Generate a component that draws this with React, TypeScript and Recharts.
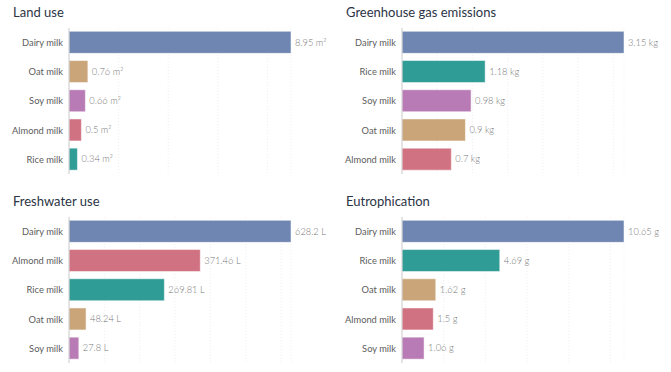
import { BarChart, Bar, XAxis, YAxis, CartesianGrid, LabelList, Cell } from "recharts";

const landCats = ["Dairy milk", "Oat milk", "Soy milk", "Almond milk", "Rice milk"];
const landVals = [8.95, 0.76, 0.66, 0.5, 0.34];
const landTicks = [0, 2, 4, 6, 8];

const ghgCats = ["Dairy milk", "Rice milk", "Soy milk", "Oat milk", "Almond milk"];
const ghgVals = [3.15, 1.18, 0.98, 0.9, 0.7];
const ghgTicks = [0, 0.5, 1, 1.5, 2, 2.5, 3];

const waterCats = ["Dairy milk", "Almond milk", "Rice milk", "Oat milk", "Soy milk"];
const waterVals = [628.2, 371.46, 269.81, 48.24, 27.8];
const waterTicks = [0, 100, 200, 300, 400, 500, 600];

const eutroCats = ["Dairy milk", "Rice milk", "Oat milk", "Almond milk", "Soy milk"];
const eutroVals = [10.65, 4.69, 1.62, 1.5, 1.06];
const eutroTicks = [0, 2, 4, 6, 8, 10];

const milkColors: Record<string, string> = {
  "Dairy milk": "#6e86b1",
  "Oat milk": "#c9a579",
  "Soy milk": "#b87bb5",
  "Almond milk": "#d07282",
  "Rice milk": "#2f9c95",
};

const FONT = "Lato, 'Open Sans', sans-serif";

// plain svg text so recharts doesn't wrap the labels
const CatTick = (props: any) => {
  const { x, y, payload } = props;
  return (
    <text x={x - 4} y={y} dy={3.3} textAnchor="end" fontSize={9.3} fill="#5c5c5c" fontFamily={FONT}>
      {payload.value}
    </text>
  );
};

function Panel({
  title,
  cats,
  vals,
  ticks,
  unit,
  left,
  top,
}: {
  title: string;
  cats: string[];
  vals: number[];
  ticks: number[];
  unit: string;
  left: number;
  top: number;
}) {
  const data = cats.map((c, i) => ({ name: c, value: vals[i] }));
  const valueLabel = (p: any) => {
    const { x, y, width, height, value } = p;
    return (
      <text
        x={x + width + 4}
        y={y + height / 2}
        dy={3.3}
        textAnchor="start"
        fontSize={9.3}
        fill="#777777"
        fontFamily={FONT}
        fontWeight={300}
      >
        {`${value} ${unit}`}
      </text>
    );
  };
  return (
    <div style={{ position: "absolute", left, top, width: 338, height: 180 }}>
      <div
        style={{
          position: "absolute",
          left: 13,
          top: 4,
          fontSize: 13,
          color: "#2b3445",
          fontFamily: FONT,
          whiteSpace: "nowrap",
        }}
      >
        {title}
      </div>
      <BarChart
        width={338}
        height={176}
        data={data}
        layout="vertical"
        barCategoryGap="11.5%"
        margin={{ top: 28, right: 47, left: 0, bottom: 2 }}
      >
        <CartesianGrid horizontal={false} stroke="#efefef" strokeDasharray="1 2" />
        <XAxis type="number" domain={[0, "dataMax"]} ticks={ticks} hide />
        <YAxis
          type="category"
          dataKey="name"
          width={69}
          tickLine={false}
          tickSize={0}
          axisLine={{ stroke: "#cccccc" }}
          tick={<CatTick />}
        />
        <Bar dataKey="value" isAnimationActive={false} stroke="#ffffff" strokeOpacity={0.5} strokeWidth={1}>
          {data.map((d) => (
            <Cell key={d.name} fill={milkColors[d.name]} />
          ))}
          <LabelList dataKey="value" content={valueLabel} />
        </Bar>
      </BarChart>
    </div>
  );
}

export default function App() {
  return (
    <div
      style={{
        position: "absolute",
        left: 0,
        top: 0,
        width: 671,
        height: 372,
        background: "#ffffff",
      }}
    >
      <Panel title="Land use" cats={landCats} vals={landVals} ticks={landTicks} unit="m²" left={0} top={0} />
      <Panel title="Greenhouse gas emissions" cats={ghgCats} vals={ghgVals} ticks={ghgTicks} unit="kg" left={333} top={0} />
      <Panel title="Freshwater use" cats={waterCats} vals={waterVals} ticks={waterTicks} unit="L" left={0} top={189} />
      <Panel title="Eutrophication" cats={eutroCats} vals={eutroVals} ticks={eutroTicks} unit="g" left={333} top={189} />
    </div>
  );
}
